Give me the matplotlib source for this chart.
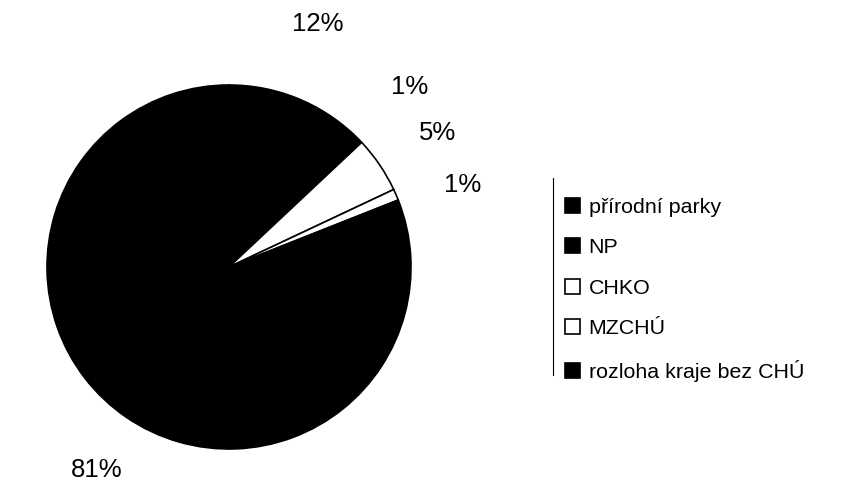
import numpy as np
import matplotlib
matplotlib.use('Agg')
import matplotlib.pyplot as plt
from matplotlib.patches import Patch
from matplotlib.lines import Line2D

labels = ['přírodní parky', 'NP', 'CHKO', 'MZCHÚ', 'rozloha kraje bez CHÚ']
values = [12, 1, 5, 1, 81]
colors = ['black', 'black', 'white', 'white', 'black']

# label placement tweaks (distance in radii, angle shift in degrees)
lab_dist = [1.42, 1.40, 1.36, 1.36, 1.33]
lab_shift = [1.5, 0, -1.5, -4, 1]

plt.rcParams['font.family'] = ['Liberation Sans', 'DejaVu Sans']

fig = plt.figure(figsize=(8.42, 4.8), dpi=100)
ax = fig.add_axes([47 / 842, 31 / 480, 364 / 842, 364 / 480])

# Excel-style: start at 12 o'clock, clockwise
wedges, _ = ax.pie(values, colors=colors, startangle=90, counterclock=False,
                   wedgeprops=dict(edgecolor='black', linewidth=1.2))
for w, v, d, s in zip(wedges, values, lab_dist, lab_shift):
    ang = np.deg2rad((w.theta1 + w.theta2) / 2 + s)
    ax.text(d * np.cos(ang), d * np.sin(ang), f'{v}%', ha='center', va='center',
            fontsize=18.5, clip_on=False)
ax.set_xlim(-1, 1)
ax.set_ylim(-1, 1)
ax.set_aspect('equal')

handles = [Patch(facecolor=c, edgecolor='black', linewidth=1.2) for c in colors]
leg = fig.legend(handles, labels, loc='upper left', bbox_to_anchor=(565 / 842, 1 - 198 / 480),
                 frameon=False, fontsize=15.4, handlelength=0.7, handleheight=0.7,
                 handletextpad=0.4, labelspacing=1.0, borderaxespad=0,
                 borderpad=0)

# thin line on the left of the legend
fig.add_artist(Line2D([553 / 842, 553 / 842], [1 - 178 / 480, 1 - 375 / 480],
                      color='black', linewidth=0.8, transform=fig.transFigure))

fig.savefig('out.png', dpi=100)
